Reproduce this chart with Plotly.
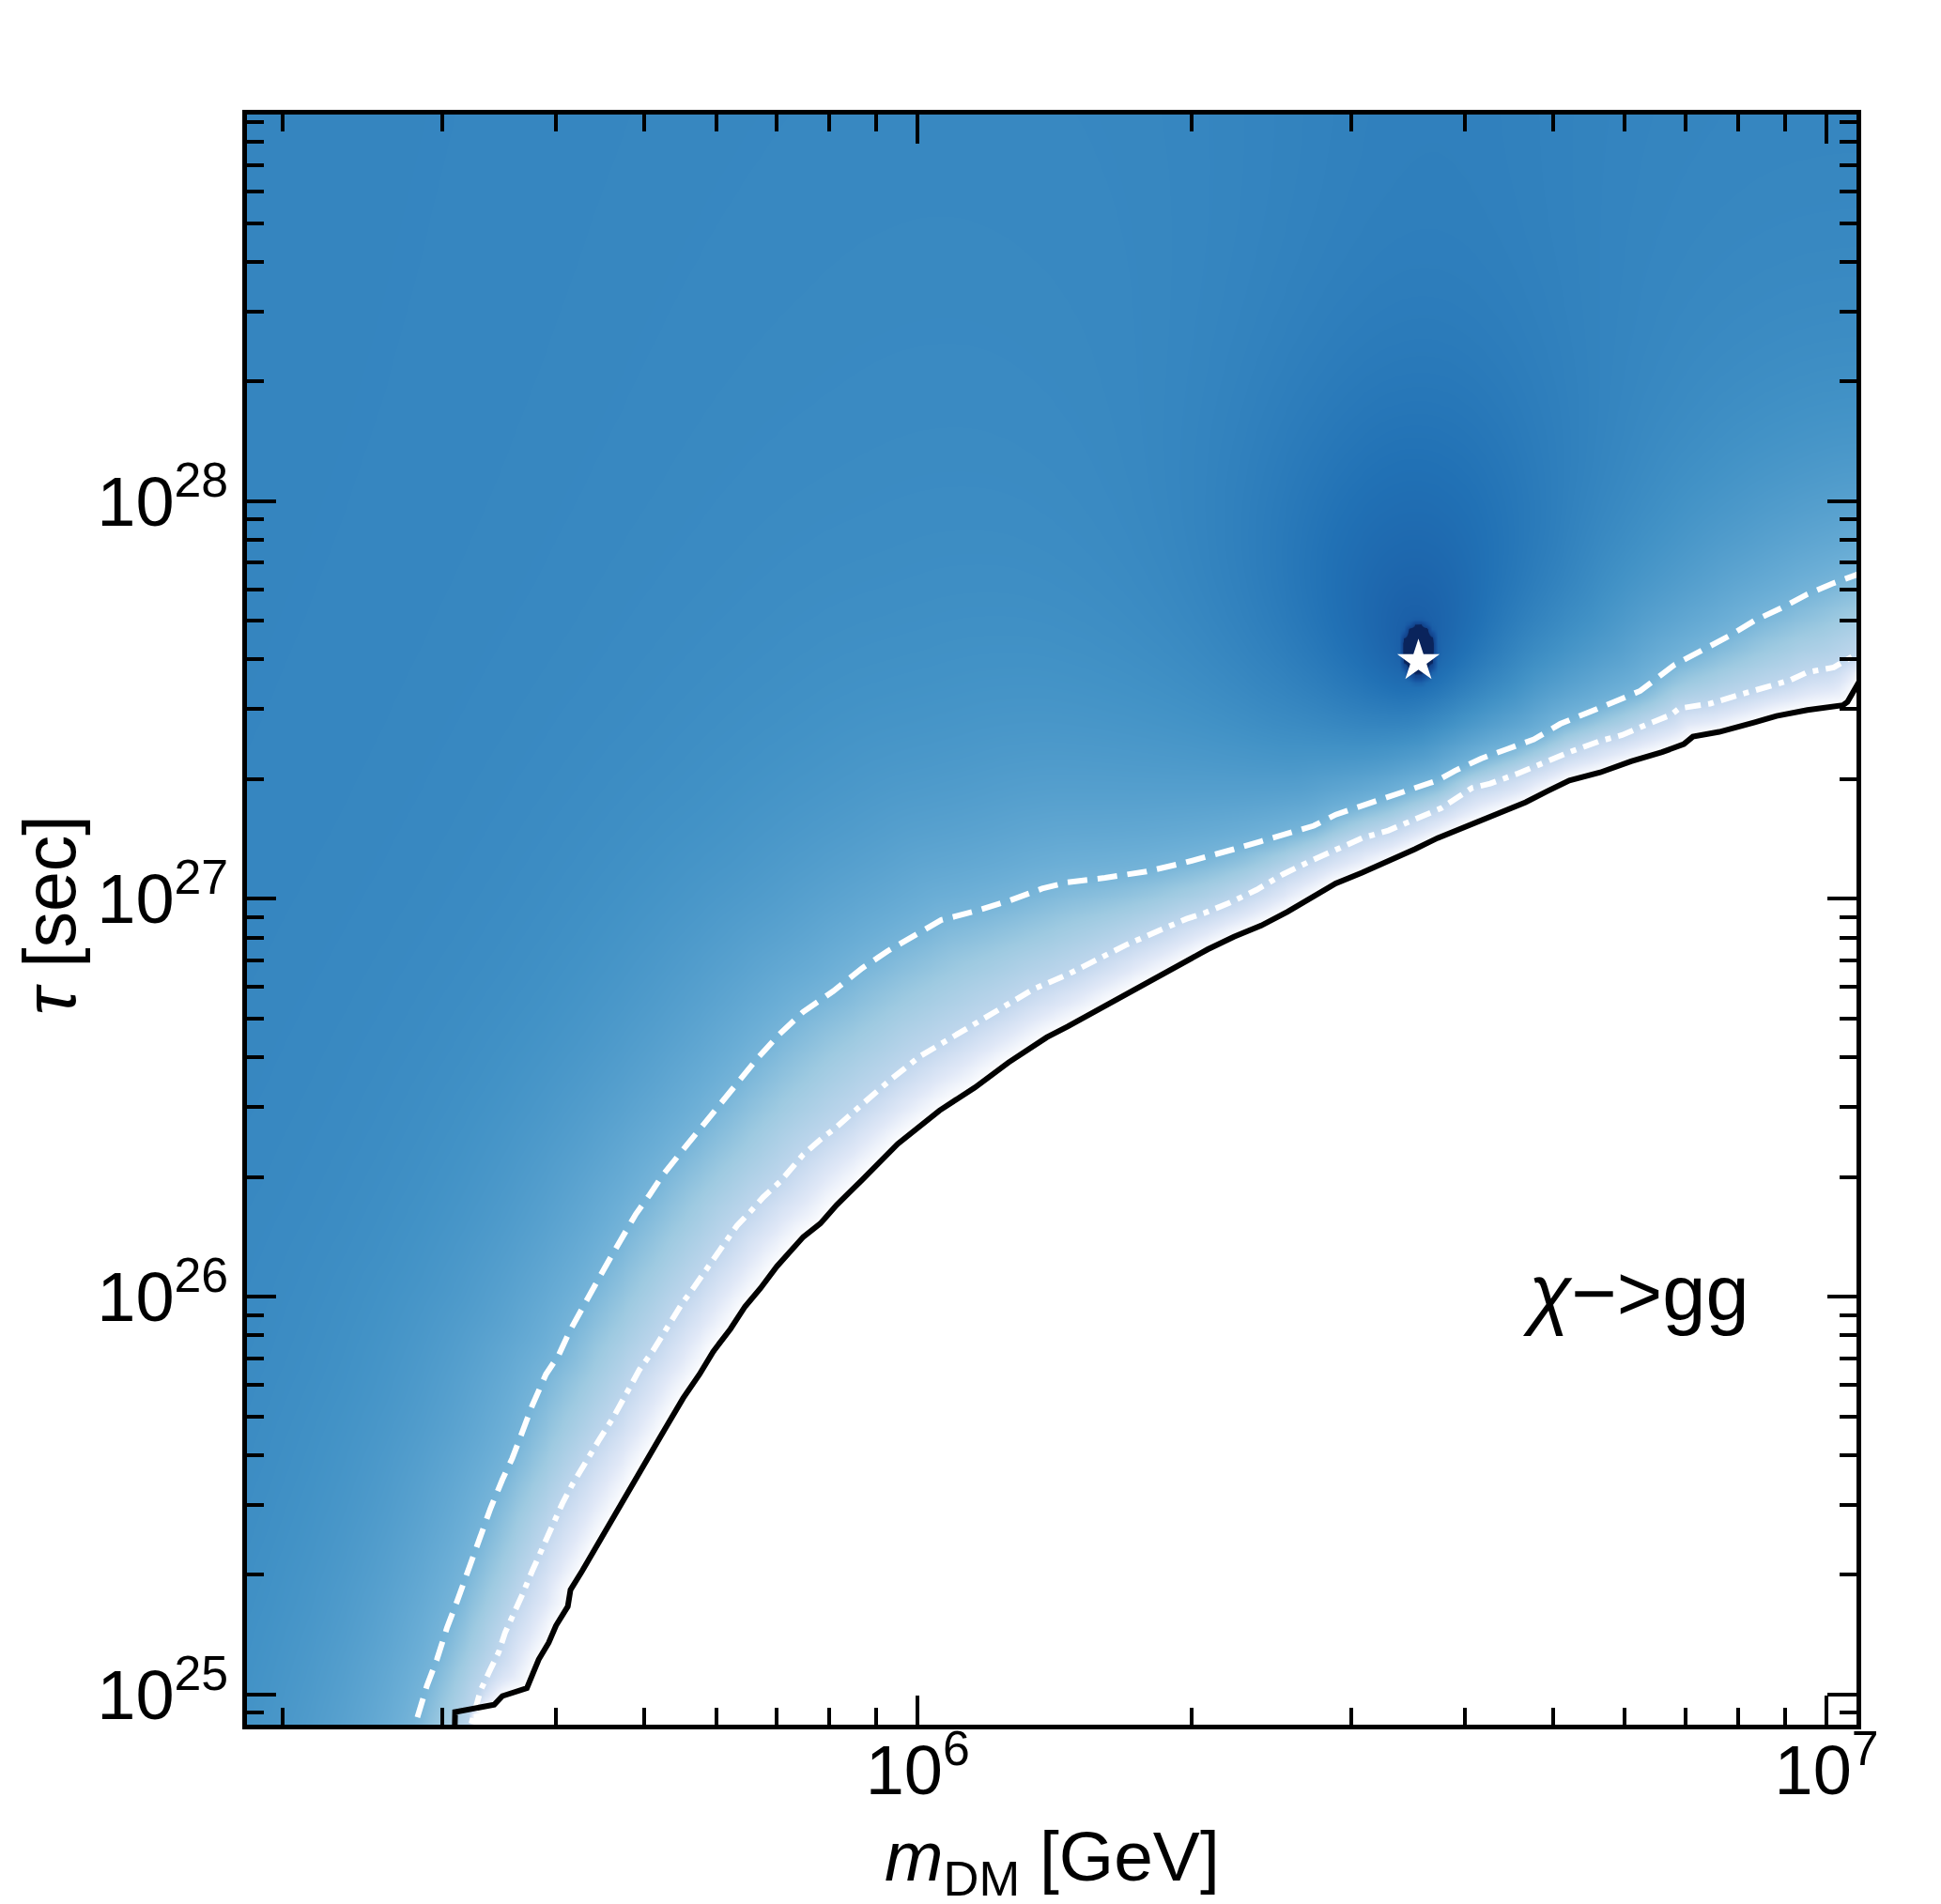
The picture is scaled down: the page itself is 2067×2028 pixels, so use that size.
import numpy as np
import plotly.graph_objects as go

# ---------------- data (log10 values) ----------------
solid_log_m = [5.4905, 5.491, 5.534, 5.543, 5.570, 5.583, 5.594, 5.602, 5.615, 5.618, 5.631, 5.646, 5.665,
               5.683, 5.701, 5.720, 5.742, 5.760, 5.775, 5.794, 5.810, 5.827, 5.845, 5.874, 5.893, 5.911,
               5.939, 5.964, 5.978, 6.024, 6.063, 6.100, 6.142, 6.165, 6.206, 6.248, 6.290, 6.319, 6.348,
               6.378, 6.407, 6.431, 6.460, 6.489, 6.518, 6.547, 6.572, 6.601, 6.635, 6.669, 6.693, 6.717,
               6.751, 6.785, 6.819, 6.843, 6.853, 6.882, 6.921, 6.945, 6.979, 7.018, 7.023, 7.039]
solid_log_tau = [24.90, 24.956, 24.974, 24.996, 25.016, 25.088, 25.130, 25.173, 25.221, 25.263, 25.311, 25.371,
                 25.443, 25.516, 25.588, 25.660, 25.745, 25.805, 25.862, 25.919, 25.975, 26.021, 26.076,
                 26.150, 26.184, 26.231, 26.294, 26.352, 26.384, 26.468, 26.526, 26.589, 26.652, 26.679,
                 26.731, 26.784, 26.834, 26.873, 26.905, 26.933, 26.968, 27.000, 27.039, 27.066, 27.094,
                 27.125, 27.153, 27.180, 27.212, 27.243, 27.271, 27.298, 27.318, 27.346, 27.369, 27.389,
                 27.408, 27.420, 27.444, 27.460, 27.475, 27.487, 27.495, 27.558]

dashed_log_m = [5.440, 5.449, 5.460, 5.471, 5.482, 5.493, 5.504, 5.517, 5.530, 5.543, 5.554, 5.565, 5.576,
                5.591, 5.605, 5.617, 5.631, 5.646, 5.661, 5.676, 5.690, 5.705, 5.719, 5.742, 5.764, 5.782,
                5.801, 5.824, 5.847, 5.874, 5.907, 5.939, 5.967, 5.999, 6.026, 6.063, 6.100, 6.137, 6.165,
                6.206, 6.252, 6.292, 6.319, 6.348, 6.378, 6.407, 6.436, 6.460, 6.484, 6.513, 6.542, 6.572,
                6.591, 6.620, 6.649, 6.678, 6.707, 6.737, 6.766, 6.795, 6.814, 6.833, 6.863, 6.892, 6.921,
                6.950, 6.979, 7.008, 7.037]
dashed_log_tau = [24.87, 24.938, 25.022, 25.088, 25.167, 25.233, 25.305, 25.383, 25.468, 25.540, 25.594,
                  25.660, 25.727, 25.805, 25.853, 25.913, 25.973, 26.033, 26.094, 26.154, 26.208, 26.256,
                  26.304, 26.370, 26.431, 26.484, 26.536, 26.600, 26.658, 26.716, 26.768, 26.826, 26.869,
                  26.911, 26.947, 26.969, 26.995, 27.026, 27.042, 27.053, 27.069, 27.090, 27.106, 27.125,
                  27.145, 27.165, 27.184, 27.212, 27.231, 27.251, 27.275, 27.298, 27.322, 27.353, 27.377,
                  27.401, 27.440, 27.467, 27.495, 27.523, 27.558, 27.589, 27.625, 27.660, 27.700, 27.731,
                  27.766, 27.794, 27.818]

dashdot_log_m = [5.502, 5.510, 5.519, 5.530, 5.539, 5.546, 5.556, 5.565, 5.576, 5.585, 5.596, 5.609, 5.620,
                 5.635, 5.650, 5.665, 5.679, 5.694, 5.709, 5.724, 5.740, 5.753, 5.768, 5.783, 5.801, 5.816,
                 5.830, 5.849, 5.874, 5.893, 5.910, 5.939, 5.971, 6.003, 6.045, 6.086, 6.128, 6.165, 6.202,
                 6.229, 6.266, 6.296, 6.315, 6.344, 6.373, 6.402, 6.431, 6.460, 6.489, 6.518, 6.547, 6.576,
                 6.610, 6.630, 6.659, 6.693, 6.717, 6.751, 6.775, 6.804, 6.829, 6.838, 6.872, 6.901, 6.930,
                 6.960, 6.979, 7.008, 7.037]
dashdot_log_tau = [24.87, 24.938, 25.010, 25.064, 25.106, 25.155, 25.203, 25.251, 25.311, 25.359, 25.419,
                   25.480, 25.528, 25.588, 25.642, 25.696, 25.757, 25.817, 25.865, 25.922, 25.980, 26.021,
                   26.070, 26.118, 26.178, 26.214, 26.250, 26.290, 26.357, 26.395, 26.425, 26.484, 26.547,
                   26.605, 26.663, 26.716, 26.774, 26.810, 26.853, 26.884, 26.921, 26.950, 26.964, 26.991,
                   27.023, 27.062, 27.094, 27.125, 27.153, 27.172, 27.200, 27.228, 27.279, 27.290, 27.314,
                   27.346, 27.369, 27.397, 27.412, 27.440, 27.463, 27.479, 27.491, 27.511, 27.530, 27.550,
                   27.570, 27.582, 27.621]

best_fit_log_m = 6.551
best_fit_log_tau = 27.598
core_log_tau = 27.622     # centre of the darkest (navy) patch

# colour level (0 = excluded/white ... 1 = best fit) attached to each line and the far field
level_solid = 0.0
level_dashdot = 0.27
level_dashed = 0.47
level_far = 0.675
level_peak = 1.0

x_ticks = [1e6, 1e7]
x_ticktext = ["10<sup>6</sup>", "10<sup>7</sup>"]
y_ticks = [1e25, 1e26, 1e27, 1e28]
y_ticktext = ["10<sup>25</sup>", "10<sup>26</sup>", "10<sup>27</sup>", "10<sup>28</sup>"]
x_range_log = [5.262, 7.033]
y_range_log = [24.924, 28.972]

blues = [[0.0, "rgb(255,255,255)"], [0.125, "rgb(224,232,247)"], [0.25, "rgb(198,217,239)"],
         [0.375, "rgb(158,202,225)"], [0.5, "rgb(107,174,214)"], [0.625, "rgb(66,146,198)"],
         [0.75, "rgb(33,113,181)"], [0.875, "rgb(22,82,158)"], [0.95, "rgb(18,68,140)"],
         [0.97, "rgb(10,36,92)"], [1.0, "rgb(10,36,92)"]]

# ---------------- build the colour field from the read lines ----------------
PXX, PXY = 968.0, 423.7   # pixels per decade (x, y) used as distance metric
gx = np.linspace(5.24, 7.05, 300)
gy = np.linspace(24.89, 29.0, 340)
X, Y = np.meshgrid(gx, gy)


def signed_distance(cx, cy):
    cx = np.asarray(cx); cy = np.asarray(cy)
    px, py = X * PXX, Y * PXY
    ax, ay = cx * PXX, cy * PXY
    d = np.full(X.shape, np.inf)
    for i in range(len(ax) - 1):
        x0, y0, x1, y1 = ax[i], ay[i], ax[i + 1], ay[i + 1]
        vx, vy = x1 - x0, y1 - y0
        L2 = vx * vx + vy * vy
        t = np.clip(((px - x0) * vx + (py - y0) * vy) / L2, 0, 1)
        d = np.minimum(d, np.hypot(px - (x0 + t * vx), py - (y0 + t * vy)))
    above = Y > np.interp(X, cx, cy, left=-1e9)
    return np.where(above, d, -d)


ds = signed_distance(solid_log_m, solid_log_tau)
dd = signed_distance(dashdot_log_m, dashdot_log_tau)
da = signed_distance(dashed_log_m, dashed_log_tau)

Z = np.zeros_like(X)
m1 = (ds > 0) & (dd <= 0)
t1 = ds / (ds + np.abs(dd) + 1e-9)
Z = np.where(m1, level_solid + t1 * (level_dashdot - level_solid), Z)
m2 = (dd > 0) & (da <= 0)
t2 = dd / (dd + np.abs(da) + 1e-9)
Z = np.where(m2, level_dashdot + t2 * (level_dashed - level_dashdot), Z)
m3 = da > 0
dap = np.clip(da, 0, None)
rise = 1 - np.exp(-dap / 130.0)
arch = 0.035 * np.exp(-((X - 6.0) / 0.45) ** 2) * np.exp(-dap / 750.0) * rise
col = 0.022 * np.exp(-((X - 6.56) / 0.2) ** 2) / (1 + np.exp(-(Y - 27.6) / 0.12))
dx = (X - best_fit_log_m) * PXX
dy = (Y - core_log_tau) * PXY
dist = np.sqrt(dx ** 2 + (dy / 1.35) ** 2)
narrow = 0.15 * np.exp(-dist / 65.0)
broad = 0.10 * np.exp(-(dist / 210.0) ** 2)
rc = np.sqrt((dx / 18.0) ** 2 + (dy / 31.0) ** 2)
core = 0.2 / (1 + np.exp(np.clip((rc - 1) / 0.05, -50, 50)))
fade = 1 - np.exp(-dap / 45.0)
above_val = level_dashed + (level_far - level_dashed) * rise - arch + (col + narrow + broad + core) * fade
Z = np.where(m3, above_val, Z)
Z = np.clip(Z, 0, 1)

fig = go.Figure()
fig.add_trace(go.Heatmap(x=10 ** gx, y=10 ** gy, z=Z, colorscale=blues, zmin=0, zmax=1,
                         zsmooth="best", showscale=False, hoverinfo="skip"))

fig.add_trace(go.Scatter(x=10 ** np.array(dashed_log_m), y=10 ** np.array(dashed_log_tau), mode="lines",
                         line=dict(color="white", width=6, dash="21px,11px"), showlegend=False))
fig.add_trace(go.Scatter(x=10 ** np.array(dashdot_log_m), y=10 ** np.array(dashdot_log_tau), mode="lines",
                         line=dict(color="white", width=6, dash="17px,8px,6px,8px"), showlegend=False))
fig.add_trace(go.Scatter(x=10 ** np.array(solid_log_m), y=10 ** np.array(solid_log_tau), mode="lines",
                         line=dict(color="black", width=6), showlegend=False))
fig.add_trace(go.Scatter(x=[10 ** best_fit_log_m], y=[10 ** best_fit_log_tau], mode="markers",
                         marker=dict(symbol="star", size=34, color="white", line=dict(width=0)),
                         showlegend=False))

x_minor = [float(k) * 10.0 ** e for e in (5, 6) for k in range(2, 10)]
y_minor = [float(k) * 10.0 ** e for e in (24, 25, 26, 27, 28) for k in range(2, 10)]

axis_common = dict(type="log", showline=True, linewidth=5, linecolor="black", mirror="allticks",
                   ticks="inside", ticklen=31, tickwidth=4, tickcolor="black", showgrid=False,
                   zeroline=False, tickfont=dict(family="Liberation Sans, Arial", size=74, color="black"))

fig.update_layout(
    width=2067, height=2028,
    margin=dict(l=255, r=98, t=114, b=199),
    paper_bgcolor="white", plot_bgcolor="white",
    xaxis=dict(range=x_range_log, tickmode="array", tickvals=x_ticks, ticktext=x_ticktext,
               ticklabelstandoff=-20,
               minor=dict(tickmode="array", tickvals=x_minor, ticks="inside", ticklen=18, tickwidth=4,
                          tickcolor="black", showgrid=False), **axis_common),
    yaxis=dict(range=y_range_log, tickmode="array", tickvals=y_ticks, ticktext=y_ticktext,
               ticklabelstandoff=0,
               minor=dict(tickmode="array", tickvals=y_minor, ticks="inside", ticklen=18, tickwidth=4,
                          tickcolor="black", showgrid=False), **axis_common),
    font=dict(family="Liberation Sans, Arial", color="black"),
    annotations=[
        dict(text="<i>m</i><sub>DM</sub> [GeV]", xref="paper", yref="paper", x=0.5, y=-0.085,
             xanchor="center", yanchor="middle", showarrow=False,
             font=dict(size=75, family="Liberation Sans, Arial", color="black")),
        dict(text="<i>τ</i> [sec]", xref="paper", yref="paper", x=-0.1225, y=0.5026, textangle=-90,
             xanchor="center", yanchor="middle", showarrow=False,
             font=dict(size=77, family="Liberation Sans, Arial", color="black")),
        dict(text="<i>χ</i>−>gg", xref="paper", yref="paper", x=0.863, y=0.268,
             xanchor="center", yanchor="middle", showarrow=False,
             font=dict(size=83, family="Liberation Sans, Arial", color="black")),
    ],
)

fig.write_html("out.html")
